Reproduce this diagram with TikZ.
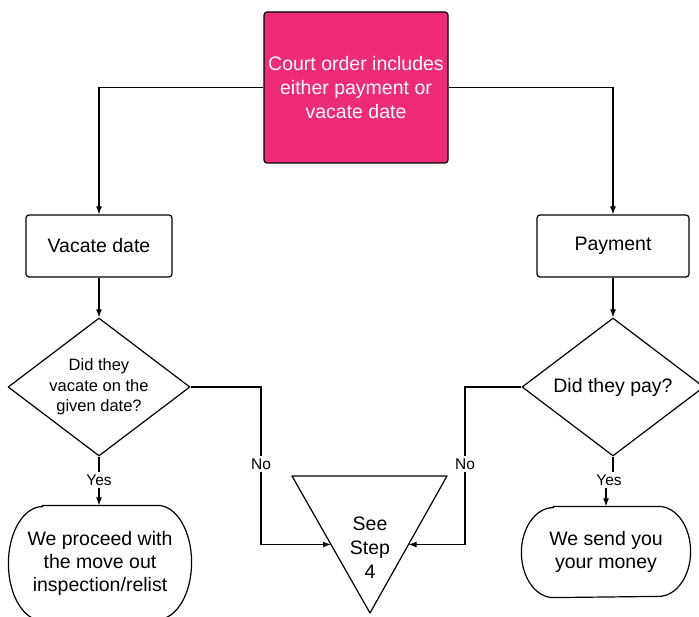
\documentclass[tikz,border=0pt]{standalone}
\usepackage{fontspec}
\setmainfont{Liberation Sans}
\usepackage{tikz}
\usetikzlibrary{shapes.geometric,arrows.meta,calc}
\definecolor{courtpink}{RGB}{237,43,119}
\tikzset{every picture/.style={line width=1.2pt}}

\begin{document}
\begin{tikzpicture}[x=1pt,y=1pt,yscale=-1,xscale=1,
  box/.style={draw,rounded corners=3pt,align=center,inner sep=0pt,font=\fontsize{19.5}{24}\selectfont},
  decide/.style={draw,diamond,aspect=1.32,align=center,inner sep=0pt,line join=round},
  term/.style={align=center,inner sep=0pt,font=\fontsize{19.5}{23}\selectfont},
  lbl/.style={fill=white,inner sep=2pt,font=\fontsize{15.5}{18}\selectfont},
  arr/.style={-{Latex[length=8pt,width=6pt]}}]
\useasboundingbox (0,0) rectangle (699,617);

%Shape: Rectangle
\node[box,fill=courtpink,text=white,minimum width=184pt,minimum height=151pt] (court) at (356,87.5) {Court order includes\\either payment or\\vacate date};
%Shape: Rectangle
\node[box,minimum width=146pt,minimum height=62pt] (vacate) at (99,246) {Vacate date};
%Shape: Rectangle
\node[box,minimum width=152pt,minimum height=62pt] (payment) at (613,246) {Payment};
%Shape: Diamond
\node[decide,minimum width=182pt,minimum height=138pt,font=\fontsize{16.5}{20.5}\selectfont] (divac) at (99,387) {Did they\\vacate on the\\given date?};
%Shape: Diamond
\node[decide,minimum width=182pt,minimum height=138pt,font=\fontsize{19.5}{24}\selectfont] (dipay) at (613,387) {Did they pay?};

%Shape: Terminal
\node[term,minimum width=182pt,minimum height=114pt] (termL) at (100,563) {We proceed with\\the move out\\inspection/relist};
\draw ($(termL.north west)+(34,0)$) -- ($(termL.north east)+(-34,0)$)
  arc[start angle=-90,end angle=0,x radius=34,y radius=57]
  arc[start angle=0,end angle=90,x radius=34,y radius=57]
  -- ($(termL.south west)+(34,0)$)
  arc[start angle=90,end angle=180,x radius=34,y radius=57]
  arc[start angle=180,end angle=270,x radius=34,y radius=57] -- cycle;
%Shape: Terminal
\node[term,minimum width=168pt,minimum height=90pt] (termR) at (606,552) {We send you\\your money};
\draw ($(termR.north west)+(32,0)$) -- ($(termR.north east)+(-32,0)$)
  arc[start angle=-90,end angle=0,x radius=32,y radius=45]
  arc[start angle=0,end angle=90,x radius=32,y radius=45]
  -- ($(termR.south west)+(32,0)$)
  arc[start angle=90,end angle=180,x radius=32,y radius=45]
  arc[start angle=180,end angle=270,x radius=32,y radius=45] -- cycle;

%Shape: Triangle
\coordinate (stepTL) at (292,476);
\coordinate (stepTR) at (447,476);
\coordinate (stepB) at (370,613);
\draw[line join=round] (stepTL) -- (stepTR) -- (stepB) -- cycle;
\coordinate (stepL) at ($(stepTL)!.5!(stepB)$);
\coordinate (stepR) at ($(stepTR)!.5!(stepB)$);
% Text Node
\node[align=center,font=\fontsize{19.5}{24}\selectfont] (step) at (370,548) {See\\Step\\4};

% Text Node
\node[lbl] (noL) at (261,464) {No};
% Text Node
\node[lbl] (noR) at (465,464) {No};
% Text Node
\node[lbl] (yesL) at (99,480) {Yes};
% Text Node
\node[lbl] (yesR) at (609,480) {Yes};

%Straight Lines
\draw[arr] (court.west) -| (vacate.north);
\draw[arr] (court.east) -| (payment.north);
\draw[arr] (vacate) -- (divac);
\draw[arr] (payment) -- (dipay);
\draw[arr] (divac.east) -| (noL) |- (stepL);
\draw[arr] (dipay.west) -| (noR) |- (stepR);
\draw[arr] (divac.south) -- (yesL) -- (yesL |- termL.north);
\draw (dipay.south) -- (dipay.south |- yesR.north);
\draw[arr] (termR.north |- yesR.south) -- (termR.north);

\end{tikzpicture}
\end{document}
